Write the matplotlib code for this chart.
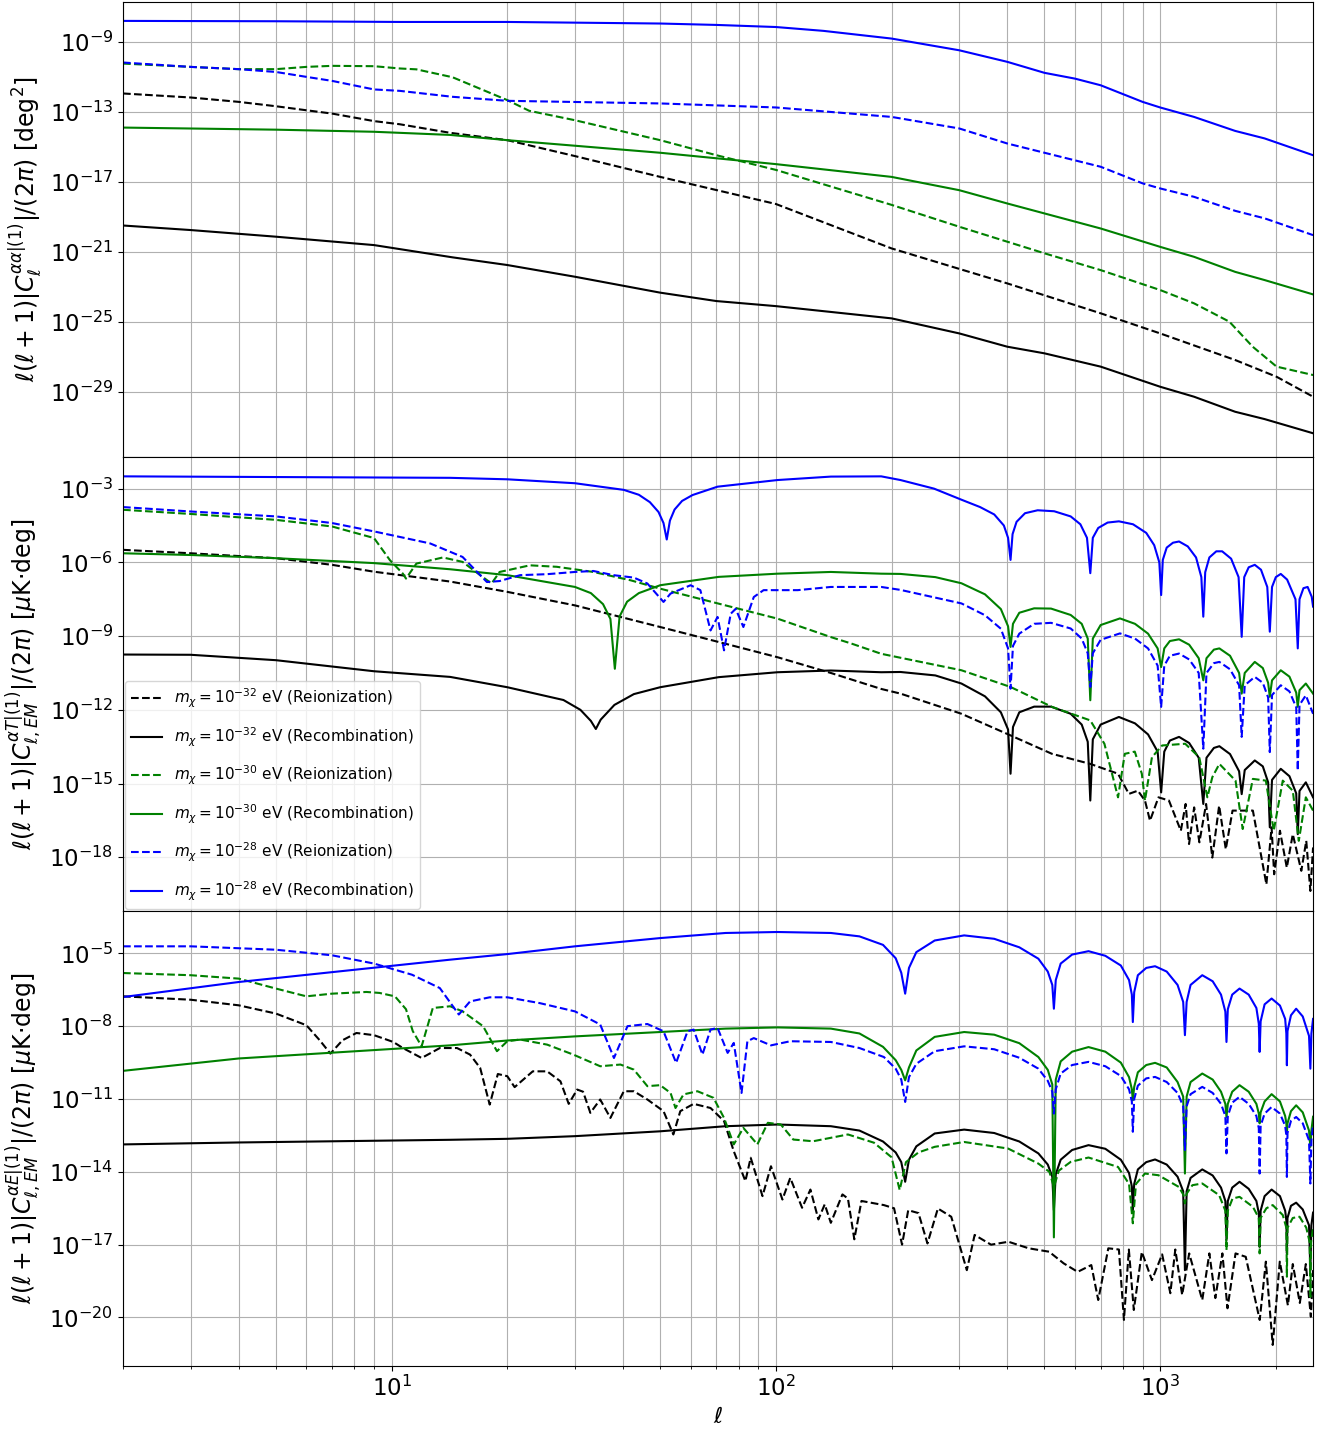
import numpy as np
import matplotlib
matplotlib.use("Agg")
import matplotlib.pyplot as plt
from matplotlib.ticker import NullLocator

# every curve is a list of (ell, log10 of the plotted spectrum)

# top panel: alpha-alpha
aa_reio32 = [(2, -11.93), (3, -12.16), (4, -12.41), (5, -12.66), (6, -12.89), (7, -13.08), (9, -13.51),
             (10.5, -13.69), (14.2, -14.18), (20, -14.6), (30, -15.51), (50, -16.7), (100, -18.25),
             (200, -20.79), (400, -22.79), (700, -24.5), (1000, -25.65), (1567, -27.17), (2009, -28.13),
             (2500, -29.27)]
aa_rec32 = [(2, -19.48), (3, -19.74), (5, -20.12), (9, -20.6), (14.4, -21.3), (20, -21.74), (30, -22.41),
            (50, -23.32), (70, -23.8), (100, -24.09), (200, -24.79), (300, -25.65), (400, -26.41),
            (500, -26.79), (700, -27.55), (1000, -28.7), (1225, -29.27), (1567, -30.13), (1870, -30.55),
            (2500, -31.36)]
aa_reio30 = [(2, -10.22), (3, -10.41), (4, -10.54), (5, -10.54), (6, -10.41), (7, -10.35), (9, -10.37),
             (10.5, -10.5), (11.6, -10.55), (14.4, -11.0), (20, -12.31), (22.8, -12.92), (30, -13.46),
             (50, -14.6), (70, -15.46), (100, -16.3), (200, -18.3), (300, -19.55), (500, -21.07),
             (700, -22.03), (1000, -23.17), (1225, -23.93), (1514, -24.98), (1741, -26.41), (2009, -27.55),
             (2500, -28.03)]
aa_rec30 = [(2, -13.88), (5, -14.0), (9, -14.12), (14.2, -14.3), (20, -14.6), (50, -15.32), (100, -15.97),
            (200, -16.7), (300, -17.46), (400, -18.22), (500, -18.79), (700, -19.65), (1000, -20.7),
            (1225, -21.27), (1567, -22.13), (1870, -22.6), (2500, -23.42)]
aa_reio28 = [(2, -10.16), (3, -10.41), (4, -10.54), (5, -10.7), (6, -10.98), (7, -11.21), (9, -11.7),
             (10.5, -11.78), (14.4, -12.12), (20, -12.35), (50, -12.5), (100, -12.73), (200, -13.27),
             (300, -13.93), (400, -14.79), (500, -15.32), (700, -16.12), (900, -17.07), (1000, -17.36),
             (1225, -17.84), (1567, -18.64), (1870, -19.07), (2500, -20.03)]
aa_rec28 = [(2, -7.78), (5, -7.8), (10.5, -7.84), (20, -7.84), (50, -7.93), (70, -8.01), (100, -8.13),
            (133, -8.35), (200, -8.79), (300, -9.46), (400, -10.12), (500, -10.75), (600, -11.08),
            (700, -11.46), (900, -12.41), (1000, -12.73), (1225, -13.27), (1567, -14.07), (1870, -14.5),
            (2500, -15.46)]

# middle panel: alpha-T
at_reio32 = [(2, -5.49), (3, -5.63), (5, -5.83), (7, -6.1), (9, -6.38), (14.2, -6.78), (20, -7.2), (30, -7.75),
             (50, -8.63), (71, -9.24), (101, -9.86), (139, -10.5), (188, -11.15), (211, -11.34), (304, -12.16),
             (408, -13.04), (523, -13.79), (658, -14.2), (777, -14.6), (829, -15.42), (875, -15.29),
             (913, -15.69), (941, -16.51), (990, -15.56), (1054, -15.69), (1132, -16.92), (1165, -15.83),
             (1189, -17.46), (1226, -15.97), (1265, -17.39), (1317, -15.83), (1367, -18.01), (1424, -15.9),
             (1482, -17.67), (1543, -16.1), (1743, -16.1), (1890, -19.1), (1950, -16.78), (1980, -18.69),
             (2050, -16.92), (2136, -18.42), (2214, -17.06), (2330, -18.55), (2400, -17.33), (2460, -19.37),
             (2500, -17.6)]
at_rec32 = [(2, -9.75), (3, -9.76), (5, -9.98), (9, -10.43), (14.2, -10.66), (20, -11.08), (28, -11.6),
            (31, -12.0), (33, -12.45), (34.0, -12.78), (35, -12.4), (38, -11.8), (42.7, -11.36), (50, -11.08),
            (71, -10.67), (101, -10.47), (139, -10.4), (188, -10.47), (211, -10.46), (260, -10.6),
            (304, -10.93), (350, -11.45), (385, -12.1), (402, -12.8), (408, -14.6), (414, -12.7),
            (430, -12.1), (470, -11.87), (520, -11.87), (585, -12.16), (625, -12.6), (648, -13.3),
            (658, -15.69), (668, -13.2), (700, -12.6), (781, -12.29), (860, -12.55), (930, -13.0),
            (985, -13.7), (1006, -15.36), (1025, -13.7), (1060, -13.25), (1120, -13.1), (1190, -13.35),
            (1260, -13.95), (1295, -15.83), (1320, -13.95), (1380, -13.55), (1426, -13.48), (1520, -13.8),
            (1605, -14.5), (1630, -15.43), (1660, -14.45), (1763, -14.06), (1850, -14.3), (1910, -14.95),
            (1929, -16.78), (1955, -14.85), (2060, -14.4), (2170, -14.7), (2260, -15.4), (2281, -17.06),
            (2305, -15.3), (2394, -14.95), (2500, -15.56)]
at_reio30 = [(2, -3.86), (3, -4.03), (5, -4.27), (7, -4.54), (9, -5.01), (9.9, -5.91), (10.7, -6.46),
             (10.9, -6.66), (11.6, -6.05), (13.6, -5.8), (15.3, -5.98), (17.0, -6.52), (18.2, -6.86),
             (19.1, -6.39), (22.9, -6.12), (26.9, -6.18), (33.5, -6.39), (41.9, -6.73), (50, -7.07),
             (71, -7.68), (101, -8.29), (139, -9.04), (157, -9.3), (188, -9.72), (304, -10.39),
             (408, -11.07), (523, -11.88), (658, -12.43), (716, -13.38), (777, -15.56), (809, -13.79),
             (859, -13.7), (896, -14.6), (913, -15.69), (952, -13.93), (1012, -13.45), (1162, -13.38),
             (1264, -13.93), (1327, -15.56), (1367, -14.74), (1426, -14.2), (1571, -14.88), (1640, -16.85),
             (1743, -14.81), (1884, -14.88), (1975, -16.92), (2085, -14.88), (2214, -15.29), (2295, -17.33),
             (2394, -15.56), (2500, -16.1)]
at_rec30 = [(2, -5.63), (3, -5.7), (5, -5.83), (9, -6.03), (14.2, -6.28), (20, -6.52), (30, -7.0),
            (33, -7.25), (35.5, -7.7), (37.1, -8.3), (38.1, -10.33), (39.2, -8.2), (41, -7.6), (44, -7.25),
            (50, -6.93), (71, -6.59), (101, -6.46), (139, -6.39), (188, -6.46), (211, -6.47), (260, -6.6),
            (304, -6.85), (350, -7.3), (385, -7.9), (402, -8.6), (408, -9.44), (414, -8.5), (430, -8.05),
            (470, -7.87), (520, -7.88), (585, -8.14), (625, -8.5), (648, -9.1), (658, -11.61), (668, -9.1),
            (700, -8.55), (786, -8.28), (860, -8.5), (930, -8.9), (985, -9.5), (1006, -10.26), (1025, -9.5),
            (1060, -9.2), (1120, -9.13), (1190, -9.35), (1260, -9.9), (1295, -10.8), (1320, -9.9),
            (1380, -9.55), (1426, -9.5), (1520, -9.8), (1605, -10.5), (1630, -11.34), (1660, -10.5),
            (1763, -10.05), (1850, -10.3), (1910, -10.9), (1929, -11.47), (1955, -10.8), (2060, -10.39),
            (2170, -10.65), (2260, -11.3), (2281, -11.88), (2305, -11.2), (2394, -10.93), (2500, -11.34)]
at_reio28 = [(2, -3.75), (3, -3.93), (5, -4.13), (7, -4.4), (9, -4.74), (12.6, -5.23), (15.3, -5.78),
             (17.7, -6.8), (19.1, -6.76), (21.6, -6.52), (25.4, -6.48), (30, -6.39), (33.5, -6.35),
             (37.8, -6.52), (42.7, -6.62), (46.3, -6.86), (51, -7.61), (53.2, -7.27), (60, -6.93),
             (63.6, -7.13), (67.6, -8.77), (70.5, -8.22), (73.3, -9.58), (76.3, -8.09), (78.6, -7.89),
             (82.3, -8.63), (87.6, -7.41), (92.9, -7.13), (114, -7.13), (139, -7.0), (188, -7.0),
             (211, -7.12), (304, -7.67), (350, -8.15), (385, -8.7), (402, -9.5), (408, -11.14), (414, -9.4),
             (430, -8.9), (470, -8.5), (520, -8.46), (585, -8.69), (625, -9.1), (648, -9.7), (658, -11.07),
             (668, -9.7), (700, -9.15), (786, -8.89), (860, -9.1), (930, -9.5), (985, -10.2), (1006, -11.88),
             (1025, -10.2), (1060, -9.8), (1120, -9.71), (1190, -9.95), (1260, -10.5), (1295, -13.58),
             (1320, -10.5), (1380, -10.1), (1426, -10.05), (1520, -10.35), (1605, -11.0), (1630, -13.1),
             (1660, -11.0), (1763, -10.66), (1850, -10.9), (1910, -11.5), (1929, -13.72), (1955, -11.4),
             (2060, -11.0), (2170, -11.25), (2260, -11.9), (2281, -14.47), (2305, -11.8), (2394, -11.41),
             (2500, -12.16)]
at_rec28 = [(2, -2.5), (14.2, -2.56), (20, -2.62), (30, -2.78), (40.2, -3.05), (44, -3.25), (47, -3.55),
            (49.5, -3.95), (51, -4.4), (52, -5.07), (53, -4.3), (54.5, -3.85), (57, -3.5), (60.7, -3.26),
            (70.5, -2.92), (101, -2.65), (139, -2.51), (188, -2.5), (211, -2.65), (258, -3.0), (304, -3.45),
            (340, -3.75), (370, -4.05), (392, -4.5), (402, -5.0), (408, -5.9), (413, -4.85), (423, -4.35),
            (445, -4.0), (480, -3.88), (530, -3.92), (585, -4.13), (620, -4.45), (645, -5.0), (658, -6.44),
            (668, -5.0), (690, -4.6), (730, -4.38), (781, -4.33), (850, -4.45), (920, -4.8), (965, -5.3),
            (995, -6.0), (1006, -7.33), (1016, -5.9), (1040, -5.4), (1080, -5.2), (1120, -5.15),
            (1180, -5.35), (1240, -5.8), (1280, -6.6), (1295, -8.21), (1310, -6.4), (1343, -5.8),
            (1400, -5.55), (1450, -5.55), (1530, -5.85), (1600, -6.6), (1630, -9.03), (1655, -6.6),
            (1700, -6.2), (1763, -6.1), (1830, -6.3), (1900, -7.0), (1929, -8.82), (1955, -7.0),
            (2000, -6.6), (2060, -6.47), (2140, -6.7), (2250, -7.5), (2281, -9.5), (2305, -7.5),
            (2360, -7.05), (2420, -7.0), (2480, -7.4), (2500, -7.8)]

# bottom panel: alpha-E
ae_reio32 = [(2, -6.77), (3, -6.91), (4, -7.14), (5, -7.48), (6, -7.96), (6.5, -8.58), (6.93, -9.13),
             (7.45, -8.58), (8.1, -8.28), (9, -8.37), (10.1, -8.65), (10.7, -8.9), (11.97, -9.31),
             (13.35, -8.9), (14.8, -8.9), (16, -9.17), (17, -9.72), (18, -11.23), (18.9, -9.97), (20, -10.06),
             (20.9, -10.51), (23.3, -9.86), (25.4, -9.86), (27.5, -10.27), (28.9, -11.2), (30.4, -10.61),
             (31.5, -10.7), (32.9, -11.57), (34.9, -11.02), (37.1, -11.78), (40.2, -10.68), (42.7, -10.68),
             (46.3, -11.02), (51, -11.5), (54.1, -12.46), (56.4, -11.5), (61.1, -11.2), (67.6, -11.37),
             (73.3, -11.91), (77.7, -13.15), (83.3, -14.38), (86, -13.42), (92.3, -15.0), (97.1, -13.77),
             (104, -15.14), (109, -14.25), (117, -15.48), (123, -14.73), (129, -15.96), (134, -15.34),
             (139, -16.1), (149, -14.93), (154, -15.1), (160, -16.78), (167, -15.2), (191, -15.37),
             (203, -15.5), (213, -17.0), (221, -15.58), (235, -15.7), (248, -16.95), (264, -15.51),
             (286, -15.85), (314, -18.05), (329, -16.6), (363, -17.0), (403, -16.88), (455, -17.15),
             (514, -17.29), (561, -17.77), (610, -18.12), (662, -17.84), (690, -19.28), (733, -17.15),
             (781, -17.2), (805, -20.1), (829, -17.2), (854, -19.69), (896, -17.3), (952, -18.46),
             (1012, -17.4), (1063, -19.0), (1095, -17.2), (1141, -19.07), (1190, -17.36), (1287, -19.28),
             (1343, -17.36), (1392, -19.2), (1452, -17.36), (1497, -19.62), (1571, -17.36), (1670, -17.5),
             (1816, -20.1), (1884, -17.7), (1963, -21.13), (2048, -17.7), (2150, -19.5), (2214, -17.8),
             (2309, -19.4), (2394, -17.8), (2467, -19.97), (2500, -18.05)]
ae_rec32 = [(2, -12.87), (4, -12.79), (14.2, -12.68), (20, -12.64), (30, -12.53), (50, -12.33), (74, -12.12),
            (101, -12.05), (139, -12.12), (165, -12.3), (190, -12.75), (205, -13.2), (212, -13.6),
            (217, -14.41), (222, -13.5), (232, -12.95), (259, -12.42), (309, -12.26), (370, -12.4),
            (430, -12.75), (482, -13.24), (510, -13.7), (524, -14.2), (529, -15.58), (535, -14.1),
            (551, -13.5), (590, -13.1), (651, -12.9), (720, -13.05), (790, -13.5), (830, -14.05),
            (844, -14.6), (849, -15.58), (856, -14.5), (875, -13.9), (920, -13.6), (970, -13.49),
            (1040, -13.7), (1110, -14.2), (1148, -14.8), (1160, -18.05), (1172, -14.8), (1200, -14.25),
            (1287, -13.9), (1370, -14.15), (1440, -14.65), (1478, -15.2), (1488, -16.81), (1500, -15.2),
            (1540, -14.65), (1609, -14.41), (1700, -14.7), (1780, -15.2), (1806, -15.7), (1815, -17.09),
            (1826, -15.6), (1870, -15.0), (1950, -14.73), (2050, -15.0), (2115, -15.6), (2130, -16.0),
            (2137, -17.36), (2145, -15.9), (2190, -15.4), (2259, -15.27), (2350, -15.55), (2440, -16.2),
            (2460, -18.05), (2475, -16.2), (2500, -15.68)]
ae_reio30 = [(2, -5.81), (3, -5.9), (4, -6.04), (5, -6.45), (6, -6.77), (7, -6.66), (8.6, -6.59), (9.3, -6.63),
             (10.2, -6.77), (10.9, -7.3), (11.35, -8.2), (11.97, -8.83), (12.8, -7.25), (14.2, -7.18),
             (15.3, -7.39), (17.3, -8.0), (18.8, -9.03), (20, -8.62), (21.6, -8.55), (25.4, -8.76),
             (29.7, -9.17), (34.9, -9.65), (39.4, -9.58), (42.7, -9.79), (46.3, -10.47), (50, -10.43),
             (53.2, -10.75), (54.8, -11.37), (57.5, -10.81), (62.5, -10.68), (68.8, -10.95), (73.3, -11.78),
             (77.7, -12.87), (82.3, -12.19), (89.5, -12.87), (95.3, -11.98), (103, -12.05), (111, -12.67),
             (125, -12.74), (154, -12.46), (180, -12.8), (200, -13.4), (210, -14.75), (218, -13.6),
             (235, -13.2), (259, -12.97), (309, -12.77), (402, -13.04), (482, -13.66), (515, -14.0),
             (529, -14.62), (545, -13.95), (585, -13.59), (651, -13.41), (777, -13.8), (830, -14.5),
             (849, -16.12), (865, -14.5), (913, -14.07), (990, -14.14), (1118, -14.62), (1150, -14.95),
             (1160, -15.3), (1172, -14.9), (1213, -14.55), (1287, -14.48), (1424, -14.96), (1478, -15.6),
             (1488, -17.22), (1500, -15.6), (1543, -15.1), (1609, -15.03), (1743, -15.44), (1806, -15.9),
             (1815, -17.36), (1826, -15.9), (1890, -15.5), (1963, -15.37), (2085, -15.78), (2130, -16.3),
             (2137, -18.32), (2145, -16.3), (2214, -15.9), (2305, -15.85), (2400, -16.3), (2450, -16.9),
             (2460, -19.15), (2470, -16.9), (2500, -16.3)]
ae_rec30 = [(2, -9.84), (4, -9.33), (14.2, -8.79), (20, -8.59), (30, -8.42), (50, -8.24), (74, -8.1),
            (101, -8.05), (139, -8.1), (165, -8.3), (190, -8.85), (205, -9.4), (212, -9.8), (217, -10.23),
            (222, -9.7), (232, -9.0), (259, -8.44), (309, -8.24), (370, -8.35), (430, -8.7), (482, -9.27),
            (510, -9.8), (524, -10.4), (529, -16.7), (535, -10.2), (551, -9.45), (590, -9.05), (651, -8.86),
            (720, -9.05), (790, -9.5), (830, -10.1), (844, -10.6), (849, -11.05), (856, -10.5), (875, -9.9),
            (920, -9.6), (970, -9.51), (1040, -9.7), (1110, -10.3), (1148, -10.9), (1160, -14.07),
            (1172, -10.9), (1200, -10.3), (1287, -9.95), (1370, -10.2), (1440, -10.7), (1478, -11.2),
            (1488, -11.74), (1500, -11.2), (1540, -10.7), (1609, -10.43), (1700, -10.7), (1780, -11.2),
            (1806, -11.6), (1815, -12.0), (1826, -11.55), (1870, -11.1), (1950, -10.8), (2050, -11.1),
            (2115, -11.7), (2130, -12.0), (2137, -12.41), (2145, -12.0), (2190, -11.5), (2259, -11.26),
            (2350, -11.55), (2440, -12.3), (2460, -12.97), (2475, -12.3), (2500, -11.73)]
ae_reio28 = [(2, -4.71), (3, -4.71), (5, -4.85), (7, -5.08), (9, -5.42), (11.3, -5.88), (13.35, -6.43),
             (14.96, -7.52), (16, -6.98), (18, -6.81), (20, -6.81), (24.3, -7.05), (30, -7.39), (34.9, -7.93),
             (37.9, -9.31), (41.1, -8.0), (46.3, -7.91), (51, -8.21), (55, -9.51), (58.9, -8.21),
             (61.1, -8.14), (64.4, -9.17), (67.6, -8.14), (70.5, -8.07), (74.9, -9.1), (77.7, -8.69),
             (81.4, -10.75), (84.3, -8.62), (87.6, -8.49), (97.1, -8.79), (109, -8.62), (139, -8.65),
             (165, -8.9), (191, -9.27), (205, -9.75), (212, -10.2), (217, -11.12), (222, -10.1),
             (232, -9.55), (259, -9.03), (309, -8.83), (370, -8.95), (430, -9.3), (482, -9.75),
             (510, -10.25), (524, -10.7), (529, -11.6), (535, -10.6), (551, -9.95), (590, -9.6),
             (651, -9.47), (720, -9.65), (790, -10.05), (830, -10.6), (844, -11.1), (849, -12.35),
             (856, -11.0), (875, -10.45), (920, -10.15), (970, -10.09), (1040, -10.3), (1110, -10.75),
             (1148, -11.3), (1160, -13.1), (1172, -11.3), (1200, -10.8), (1287, -10.5), (1370, -10.75),
             (1440, -11.2), (1478, -11.7), (1488, -13.24), (1500, -11.7), (1540, -11.15), (1609, -10.91),
             (1700, -11.2), (1780, -11.7), (1806, -12.2), (1815, -14.07), (1826, -12.1), (1870, -11.6),
             (1950, -11.33), (2050, -11.6), (2115, -12.1), (2130, -12.5), (2137, -14.21), (2145, -12.4),
             (2190, -11.9), (2259, -11.74), (2350, -12.0), (2440, -12.7), (2460, -14.48), (2475, -12.7),
             (2500, -12.1)]
ae_rec28 = [(2, -6.8), (4, -6.18), (14.2, -5.26), (20, -5.03), (30, -4.71), (50, -4.37), (74, -4.16),
            (101, -4.12), (139, -4.16), (165, -4.3), (190, -4.65), (205, -5.2), (212, -5.8), (217, -6.66),
            (222, -5.6), (232, -4.95), (259, -4.47), (309, -4.26), (370, -4.4), (430, -4.75), (482, -5.22),
            (510, -5.75), (524, -6.3), (529, -7.28), (535, -6.1), (551, -5.42), (590, -5.05), (651, -4.91),
            (720, -5.1), (790, -5.5), (830, -6.1), (844, -6.7), (849, -7.83), (856, -6.6), (875, -5.9),
            (920, -5.6), (970, -5.53), (1040, -5.75), (1110, -6.3), (1148, -7.0), (1160, -8.37),
            (1172, -7.0), (1200, -6.3), (1287, -5.9), (1370, -6.15), (1440, -6.7), (1478, -7.4),
            (1488, -8.65), (1500, -7.3), (1540, -6.7), (1609, -6.45), (1700, -6.7), (1780, -7.25),
            (1806, -7.9), (1815, -9.06), (1826, -7.8), (1870, -7.1), (1950, -6.86), (2050, -7.15),
            (2115, -7.7), (2130, -8.3), (2137, -9.61), (2145, -8.2), (2190, -7.55), (2259, -7.28),
            (2350, -7.6), (2440, -8.4), (2460, -9.75), (2475, -8.3), (2500, -7.7)]

masses = [-32, -30, -28]
colors = ['k', 'g', 'b']

panels = [
    ([aa_reio32, aa_rec32, aa_reio30, aa_rec30, aa_reio28, aa_rec28],
     r'$\ell(\ell+1)|C_\ell^{\alpha\alpha|(1)}|/(2\pi)$ [deg$^2$]',
     (10**-32.7, 10**-6.7), [1e-29, 1e-25, 1e-21, 1e-17, 1e-13, 1e-9]),
    ([at_reio32, at_rec32, at_reio30, at_rec30, at_reio28, at_rec28],
     r'$\ell(\ell+1)|C_{\ell,EM}^{\alpha T|(1)}|/(2\pi)$ [$\mu$K$\cdot$deg]',
     (10**-20.2, 10**-1.7), [1e-18, 1e-15, 1e-12, 1e-9, 1e-6, 1e-3]),
    ([ae_reio32, ae_rec32, ae_reio30, ae_rec30, ae_reio28, ae_rec28],
     r'$\ell(\ell+1)|C_{\ell,EM}^{\alpha E|(1)}|/(2\pi)$ [$\mu$K$\cdot$deg]',
     (10**-22.0, 10**-3.27), [1e-20, 1e-17, 1e-14, 1e-11, 1e-8, 1e-5]),
]

fig, axes = plt.subplots(3, 1, figsize=(13.27, 14.39), dpi=100, sharex=True)
fig.subplots_adjust(left=0.0927, right=0.9895, top=0.9986, bottom=0.0507, hspace=0)

for ax, (curves, ylab, ylim, yticks) in zip(axes, panels):
    for i, curve in enumerate(curves):
        ell = np.array([p[0] for p in curve])
        val = 10.0 ** np.array([p[1] for p in curve])
        m = masses[i // 2]
        kind = 'Reionization' if i % 2 == 0 else 'Recombination'
        ax.plot(ell, val, color=colors[i // 2], ls='--' if i % 2 == 0 else '-', lw=1.5,
                label=r'$m_\chi = 10^{%d}$ eV (%s)' % (m, kind))
    ax.set_xscale('log')
    ax.set_yscale('log')
    ax.set_xlim(2, 2500)
    ax.set_ylim(*ylim)
    ax.set_yticks(yticks)
    ax.yaxis.set_minor_locator(NullLocator())
    ax.grid(True, which='major', color='#b0b0b0', lw=0.8)
    ax.xaxis.grid(True, which='minor', color='#b0b0b0', lw=0.8)
    ax.tick_params(labelsize=16.5)
    ax.set_ylabel(ylab, fontsize=17)

axes[1].legend(loc='lower left', fontsize=11, labelspacing=1.0, borderaxespad=0.15)
axes[2].set_xlabel(r'$\ell$', fontsize=16)
fig.align_ylabels(axes)

fig.savefig('out.png', dpi=100)
